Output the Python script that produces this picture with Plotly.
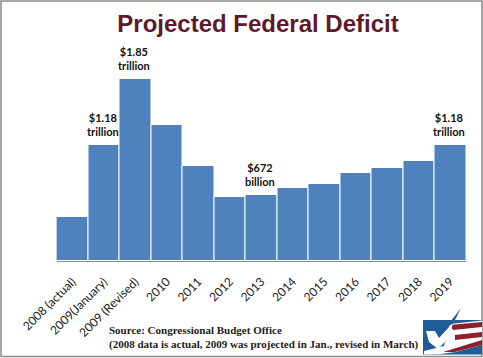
import plotly.graph_objects as go

categories = ["2008 (actual)", "2009(January)", "2009 (Revised)", "2010", "2011", "2012", "2013",
              "2014", "2015", "2016", "2017", "2018", "2019"]
deficit_billions = [450, 1180, 1850, 1380, 965, 650, 672, 740, 780, 895, 945, 1015, 1180]
callout_names = ["2009(January)", "2009 (Revised)", "2013", "2019"]
callout_texts = ["$1.18<br>trillion", "$1.85<br>trillion", "$672<br>billion", "$1.18<br>trillion"]
title_text = "Projected Federal Deficit"
source_text = ("Source: Congressional Budget Office<br>"
               "(2008 data is actual, 2009 was projected in Jan., revised in March)")

W, H = 483, 358
def px(x): return x / W
def py(y): return 1 - y / H

fig = go.Figure(go.Bar(x=categories, y=deficit_billions,
                       marker=dict(color="#4F81BD", line=dict(color="white", width=1))))

for name, txt in zip(callout_names, callout_texts):
    i = categories.index(name)
    fig.add_annotation(x=i, y=deficit_billions[i], text=txt, showarrow=False,
                       yanchor="bottom", yshift=5, xshift=-1, align="center",
                       font=dict(family="Lato", size=11, color="#111111", weight="bold"))

fig.add_annotation(xref="paper", yref="paper", x=px(106.5), y=py(322), xanchor="left", yanchor="top",
                   text=source_text, showarrow=False, align="left",
                   font=dict(family="Liberation Serif", size=11, color="#222222", weight="bold"))

def path(points):
    return "M " + " L ".join(f"{px(a):.4f} {py(b):.4f}" for a, b in points) + " Z"

shapes = [
    dict(type="rect", xref="paper", yref="paper", x0=px(1), x1=px(482), y0=py(1), y1=py(356.5),
         line=dict(color="#8C8C8C", width=1.5), fillcolor="rgba(0,0,0,0)", layer="below"),
    dict(type="rect", xref="paper", yref="paper", x0=px(423), x1=px(482), y0=py(320), y1=py(354.5),
         line=dict(width=0), fillcolor="#1F5C99"),
]
for pts, col in [
    ([(450, 324), (482, 320.5), (482, 345), (456, 352), (440, 354), (424, 354.5), (424, 351), (444, 346)], "#FFFFFF"),
    ([(450, 325), (482, 322), (482, 327), (453, 330)], "#8E1F2B"),
    ([(455, 335), (482, 332), (482, 337), (455, 340)], "#8E1F2B"),
    ([(443, 352), (482, 340), (482, 345), (455, 352)], "#8E1F2B"),
    ([(426, 331), (435, 331), (439, 338), (450, 326), (461, 308), (454, 322), (445, 342), (438, 349), (429, 342)], "#FFFFFF"),
    ([(447, 326), (461, 308), (453, 324)], "#1F5C99"),
]:
    shapes.append(dict(type="path", xref="paper", yref="paper", path=path(pts),
                       line=dict(width=0), fillcolor=col))

fig.update_layout(
    width=W, height=H, autosize=False,
    margin=dict(l=0, r=0, t=0, b=0),
    paper_bgcolor="white", plot_bgcolor="white",
    showlegend=False, bargap=0, shapes=shapes,
    title=dict(text=title_text, x=258 / W, xanchor="center", y=py(24), yanchor="middle",
               font=dict(family="Liberation Sans", size=24, color="#5E1A2B", weight="bold")),
    xaxis=dict(domain=[px(56.5), px(466)], tickangle=-45, type="category",
               range=[-0.5, len(categories) - 0.5],
               ticks="outside", ticklen=8, tickcolor="rgba(0,0,0,0)",
               tickfont=dict(family="Lato", size=12, color="#222222"),
               showline=True, linecolor="#8C8C8C", linewidth=1, automargin=False),
    yaxis=dict(domain=[py(261), py(79)], range=[0, 1850], visible=False, automargin=False),
)
fig.write_html("out.html", config=dict(displayModeBar=False),
               post_script="document.body.style.margin='0';document.body.style.overflow='hidden';")
